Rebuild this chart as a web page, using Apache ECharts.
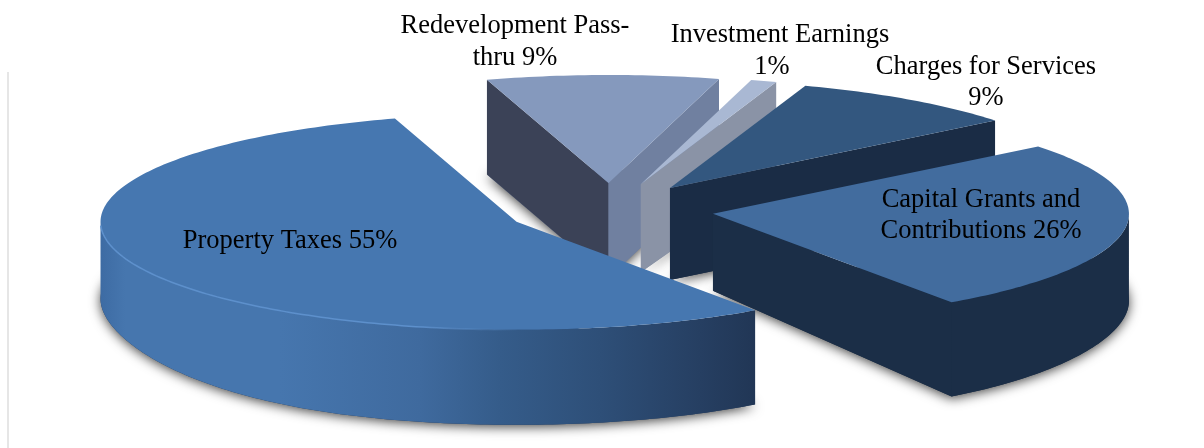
<!DOCTYPE html>
<html>
<head>
<meta charset="utf-8">
<style>html,body{margin:0;padding:0;background:#fff}#chart{width:1204px;height:448px}</style>
<script src="https://cdn.jsdelivr.net/npm/echarts@6/dist/echarts.min.js"></script>
</head>
<body>
<div id="chart"></div>
<script>
// Revenue shares, clockwise from the back of the pie; nearer slices are painted later.
const categories = ['Redevelopment Pass-thru', 'Investment Earnings', 'Charges for Services', 'Capital Grants and Contributions', 'Property Taxes'];
const shares = [9, 1, 9, 26, 55];
const labelLines = [
  ['Redevelopment Pass-', 'thru 9%'],
  ['Investment Earnings', '1%'],
  ['Charges for Services', '9%'],
  ['Capital Grants and', 'Contributions 26%'],
  ['Property Taxes 55%']
];

// Projection of the tilted pie and the look of each slice.
const pie = { cx: 610, cy: 210, rx: 416, ry: 108, explode: 0.25, startAngle: -17 };
const apexDepth = [95, 88, 92, 77, 80];
const topFill = ['#8599bd', '#a9b8d3', '#33577f', '#426c9e', '#4677b0'];
const startFaceFill = ['#3b4257', '#8a93a6', '#1a2c45', '#1a2c45', '#22395a'];
const endFaceFill = ['#7080a0', '#8a93a6', '#1a2c45', '#1b2e47', '#22395a'];
const labelAnchors = [[515, 26, 32], [780, 35, 32], [986, 67, 31], [981, 200, 31], [290, 241, 0]];
const property3dStops = [[100, '#3d6ba3'], [125, '#4676ae'], [280, '#4676ae'], [420, '#3f6a9e'], [500, '#355c8a'], [600, '#2e4f78'], [700, '#263f62'], [757, '#213655']];

const rad = d => d * Math.PI / 180;

// Depth of the pie's wall at an angle: foreshortened towards the left and right extremes.
function rimDepth(a) {
  const s = Math.sin(rad(a));
  return 95 - (s < 0 ? 18 : 8) * Math.pow(s, 4);
}

function sliceGeometry(index) {
  const total = shares.reduce((t, v) => t + v, 0);
  const before = shares.slice(0, index).reduce((t, v) => t + v, 0);
  const a0 = pie.startAngle + before / total * 360;
  const a1 = a0 + shares[index] / total * 360;
  const mid = rad((a0 + a1) / 2);
  const ox = pie.cx + pie.explode * pie.rx * Math.sin(mid);
  const oy = pie.cy - pie.explode * pie.ry * Math.cos(mid);
  const at = a => [ox + pie.rx * Math.sin(rad(a)), oy - pie.ry * Math.cos(rad(a))];
  const down = (p, d) => [p[0], p[1] + d];
  const arc = (from, to, fn) => {
    const pts = [];
    const n = Math.max(2, Math.ceil(Math.abs(to - from)));
    for (let i = 0; i <= n; i++) pts.push(fn(from + (to - from) * i / n));
    return pts;
  };
  return { a0, a1, ox, oy, at, down, arc };
}

function renderSlice(params) {
  const i = params.dataIndex;
  const g = sliceGeometry(i);
  const apex = [g.ox, g.oy];
  const apexLow = g.down(apex, apexDepth[i]);
  const children = [];
  const shadow = { shadowBlur: 12, shadowColor: 'rgba(0,0,0,0.75)', shadowOffsetY: 2 };

  // Footprint of the slice on the ground, which casts the soft shadow.
  const lowRim = g.arc(g.a0, g.a1, a => g.down(g.at(a), rimDepth(a)));
  children.push({ type: 'polygon', shape: { points: [apexLow].concat(lowRim) },
    style: Object.assign({ fill: endFaceFill[i] }, shadow) });

  const face = (a, fill) => children.push({ type: 'polygon',
    shape: { points: [apex, g.at(a), g.down(g.at(a), rimDepth(a)), apexLow] }, style: { fill } });
  if (Math.sin(rad(g.a0)) < 0) face(g.a0, startFaceFill[i]);
  if (Math.sin(rad(g.a1)) > 0) face(g.a1, endFaceFill[i]);

  // Outer wall: only the part of the rim that faces the viewer.
  const w0 = Math.max(g.a0, 90), w1 = Math.min(g.a1, 270);
  if (w1 > w0) {
    const upper = g.arc(w0, w1, g.at);
    const lower = g.arc(w1, w0, a => g.down(g.at(a), rimDepth(a)));
    const isLargest = shares[i] === Math.max.apply(null, shares);
    const fill = isLargest ? {
      type: 'linear', global: true, x: 100, y: 0, x2: 757, y2: 0,
      colorStops: property3dStops.map(s => ({ offset: (s[0] - 100) / 657, color: s[1] }))
    } : endFaceFill[i];
    children.push({ type: 'polygon', shape: { points: upper.concat(lower) }, style: { fill } });
  }

  children.push({ type: 'polygon',
    shape: { points: [apex].concat(g.arc(g.a0, g.a1, g.at)) },
    style: { fill: topFill[i] } });

  // Bevel highlight along the front rim of the largest slice.
  if (shares[i] === Math.max.apply(null, shares)) {
    children.push({ type: 'polyline', shape: { points: g.arc(180, 268, g.at) },
      style: { fill: 'none', lineWidth: 1.5, stroke: {
        type: 'linear', global: true, x: 100, y: 0, x2: 520, y2: 0,
        colorStops: [{ offset: 0, color: '#5d90cc' }, { offset: 0.75, color: '#5d90cc' }, { offset: 1, color: 'rgba(93,144,204,0)' }]
      } } });
  }
  return { type: 'group', children };
}

// Text labels, one element per printed line.
const labelElements = [];
labelLines.forEach((lines, i) => {
  const [x, y, gap] = labelAnchors[i];
  lines.forEach((line, k) => {
    labelElements.push({
      type: 'text', z: 100,
      x: line === '1%' ? x - 8 : x, y: y + k * gap,
      style: { text: line, font: '26.5px "Liberation Serif"', fill: '#000', textAlign: 'center', textVerticalAlign: 'middle' }
    });
  });
});

const chart = echarts.init(document.getElementById('chart'), null, { renderer: 'canvas' });
chart.setOption({
  backgroundColor: '#ffffff',
  animation: false,
  graphic: { elements: [
    { type: 'rect', z: 0, shape: { x: 7, y: 72, width: 2, height: 376 }, style: { fill: '#e6e6e6' } }
  ].concat(labelElements) },
  series: [{
    type: 'custom',
    name: 'Revenue sources',
    coordinateSystem: 'none',
    silent: true,
    z: 2,
    data: shares.map((v, i) => ({ name: categories[i], value: v })),
    renderItem: renderSlice
  }]
});
</script>
</body>
</html>
